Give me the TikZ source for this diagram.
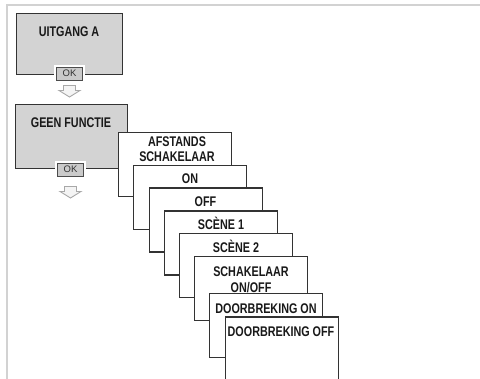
\documentclass[tikz,border=0pt]{standalone}
\usepackage{fontspec}
\usetikzlibrary{calc}
\setmainfont{Liberation Sans}[FakeStretch=0.77]
\newfontfamily\okfont{Liberation Sans}
\definecolor{frameC}{HTML}{D2D2D2}
\definecolor{edgeC}{HTML}{333333}
\definecolor{grayfill}{HTML}{D3D3D3}
\definecolor{okfill}{HTML}{CACACA}
\definecolor{arrowC}{HTML}{A8A8A8}
\definecolor{arrowfill}{HTML}{F4F4F4}
\tikzset{
  graybox/.style={draw=edgeC, line width=1.3pt, fill=grayfill, rectangle, inner sep=0pt, anchor=north west},
  menubox/.style={draw=edgeC, line width=1.2pt, fill=white, rectangle, inner sep=0pt, anchor=north west, minimum width=113pt, minimum height=64pt},
  lbl/.style={font=\fontsize{14}{16}\selectfont\bfseries, text=black!90, anchor=base, inner sep=0pt, align=center},
  okbtn/.style={draw=black!70, line width=0.8pt, fill=okfill, rectangle, inner sep=0pt, minimum width=26pt, minimum height=13pt, font=\okfont\fontsize{9.5}{9.5}\selectfont, text=black!80},
  okgap/.style={fill=white, rectangle, inner sep=0pt, minimum width=31pt, minimum height=17pt},
  hollowarrow/.style={draw=arrowC, line width=0.9pt, fill=arrowfill, line join=miter}
}
\begin{document}
\begin{tikzpicture}[x=1pt,y=-1pt]
\useasboundingbox (0,0) rectangle (480,379);
% frame
\draw[frameC, line width=2pt] (6.5,380) -- (6.5,5.5) -- (481,5.5);

% UITGANG A
\node[graybox, minimum width=106pt, minimum height=61pt] (ua) at (16,13) {};
\node[lbl] (uat) at (69,37) {UITGANG A};
\node[okgap] (okgap1) at (69.5,73.5) {};
\node[okbtn] (ok1) at (69.5,73.5) {OK};
\coordinate (a1) at (69.5,85.5);
\draw[hollowarrow] ($(a1)+(-6,0)$) -- ($(a1)+(6,0)$) -- ($(a1)+(6,5)$) -- ($(a1)+(10.5,5)$) -- ($(a1)+(0,11.5)$) -- ($(a1)+(-10.5,5)$) -- ($(a1)+(-6,5)$) -- cycle;

% GEEN FUNCTIE
\node[graybox, minimum width=112pt, minimum height=64pt] (gf) at (15,104) {};
\node[lbl] (gft) at (71,127.5) {GEEN FUNCTIE};
\node[okgap] (okgap2) at (70.5,169.5) {};
\node[okbtn] (ok2) at (70.5,169.5) {OK};
\coordinate (a2) at (70.5,186.5);
\draw[hollowarrow] ($(a2)+(-6,0)$) -- ($(a2)+(6,0)$) -- ($(a2)+(6,5)$) -- ($(a2)+(10.5,5)$) -- ($(a2)+(0,11.5)$) -- ($(a2)+(-10.5,5)$) -- ($(a2)+(-6,5)$) -- cycle;

% cascade of menu boxes
\node[menubox] (m1) at (118,132) {};
\node[lbl] (m1a) at (177,147) {AFSTANDS};
\node[lbl] (m1b) at (177,162) {SCHAKELAAR};

\node[menubox] (m2) at (133,165) {};
\node[lbl] (m2t) at (190,184) {ON};

\node[menubox] (m3) at (149,187.5) {};
\node[lbl] (m3t) at (205.5,207) {OFF};

\node[menubox] (m4) at (164,210.5) {};
\node[lbl] (m4t) at (221,229.5) {SCÈNE 1};

\node[menubox] (m5) at (179,233) {};
\node[lbl] (m5t) at (236,253) {SCÈNE 2};

\node[menubox] (m6) at (194,256) {};
\node[lbl] (m6a) at (251,276.5) {SCHAKELAAR};
\node[lbl] (m6b) at (251,292.5) {ON/OFF};

\node[menubox] (m7) at (209,293) {};
\node[lbl] (m7t) at (266,313.5) {DOORBREKING ON};

\node[menubox] (m8) at (224.5,316.5) {};
\node[lbl] (m8t) at (281,336.5) {DOORBREKING OFF};
\end{tikzpicture}
\end{document}
